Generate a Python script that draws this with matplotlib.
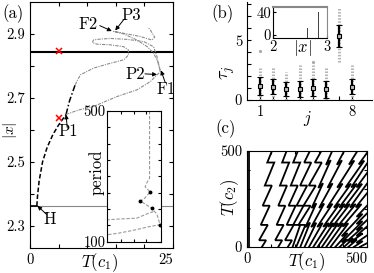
import numpy as np
import matplotlib.pyplot as plt
from matplotlib.transforms import ScaledTranslation

plt.rcParams.update({
    'font.family': 'serif', 'font.serif': ['cmr10'], 'mathtext.fontset': 'cm',
    'axes.unicode_minus': False, 'font.size': 10.5,
    'xtick.direction': 'in', 'ytick.direction': 'in',
    'xtick.major.size': 3, 'ytick.major.size': 3, 'axes.linewidth': 0.8,
})

# ---------------- data ----------------
# (a) bifurcation diagram |x| vs T(c1)
stable_T = [0.0, 1.2]
stable_x = [2.362, 2.362]
upper_fp_x = 2.845
unstable_fp_x = 2.362

hopf_T = [1.2, 1.3, 1.6, 2.2, 3.0, 4.0, 5.0, 6.3]
hopf_x = [2.362, 2.39, 2.44, 2.50, 2.545, 2.585, 2.615, 2.648]

dd_T = [6.3, 6.9, 7.9]
dd_x = [2.648, 2.69, 2.741]

up_T = [7.9, 8.8, 11.1, 14.0, 16.4, 17.2, 17.2, 16.4, 14.0, 11.7, 10.9, 11.1, 11.7,
        14.0, 17.0, 19.9, 21.6, 22.2, 22.5, 22.8]
up_x = [2.741, 2.772, 2.793, 2.808, 2.819, 2.834, 2.85, 2.86, 2.866, 2.868, 2.873,
        2.881, 2.883, 2.886, 2.883, 2.876, 2.86, 2.829, 2.80, 2.782]

low_T = [6.3, 8.5, 11.1, 15.2, 18.7, 21.05, 22.2, 22.8, 22.5, 21.6, 20.5, 18.7, 16.4,
         14.6, 17.0, 19.3, 21.3, 21.8, 21.05, 20.6]
low_x = [2.648, 2.662, 2.673, 2.704, 2.725, 2.751, 2.772, 2.782, 2.808, 2.84, 2.86,
         2.881, 2.90, 2.908, 2.90, 2.892, 2.881, 2.89, 2.912, 2.921]

cross_T = [5.0, 5.0]
cross_x = [2.637, 2.846]

# inset of (a): period vs T(c1)
per_T1 = [21.1, 21.1, 20.6, 20.3, 21.2, 20.0, 19.4, 20.6, 21.5, 22.4, 23.0, 21.0, 18.5, 15.5, 13.4]
per_P1 = [500, 294, 280, 268, 252, 229, 225, 212, 202, 185, 152, 146, 136, 126, 121]
per_T2 = [21.8, 20.9, 18.8, 15.2, 13.4]
per_P2 = [192, 187, 172, 169, 167]
per_dot_T = [21.2, 19.4, 21.5, 23.0]
per_dot_P = [252, 225, 202, 152]

# (b) tau_j statistics
j = [1, 2, 3, 4, 5, 6, 7, 8]
tau_mean = [1.19, 1.11, 0.89, 0.92, 1.03, 0.94, 5.36, 1.11]
tau_lo = [0.42, 0.47, 0.33, 0.28, 0.36, 0.19, 4.44, 0.47]
tau_hi = [1.94, 1.78, 1.47, 1.58, 1.72, 1.61, 6.25, 1.75]
tau_min = [0.0, 0.0, 0.0, 0.0, 0.0, 0.0, 3.19, 0.0]
tau_max = [2.64, 2.78, 2.36, 2.92, 2.9, 2.64, 7.78, 2.92]
tau_out_j = [1, 5]
tau_out = [4.1, 3.19]

# inset of (b): histogram of |x|
hist_x = [2.637, 2.845]
hist_n = [13, 40.5]

# (c) T(c2) vs T(c1) curves, kink positions along each curve
c_curves = [
    [(8, 0), (8, 500)],
    [(62, 0), (65, 35), (72, 115), (80, 215), (89, 320), (99, 440), (104, 500)],
    [(130, 0), (132, 35), (138, 115), (145, 215), (152, 320), (161, 440), (165, 500)],
    [(170, 0), (173, 35), (180, 115), (188, 215), (197, 320), (207, 440), (212, 500)],
    [(190, 0), (207, 115), (221, 215), (236, 320), (253, 440), (262, 500)],
    [(205, 0), (229, 115), (250, 215), (272, 320), (297, 440), (310, 500)],
    [(222, 0), (253, 115), (279, 215), (307, 320), (339, 440), (355, 500)],
    [(240, 0), (278, 115), (311, 215), (346, 320), (385, 440), (405, 500)],
    [(258, 0), (304, 115), (345, 215), (387, 320), (436, 440), (460, 500)],
    [(276, 0), (329, 115), (374, 215), (422, 320), (477, 440), (500, 490)],
    [(294, 0), (349, 115), (396, 215), (446, 320), (500, 435)],
    [(312, 0), (368, 115), (417, 215), (468, 320), (500, 385)],
    [(330, 0), (389, 115), (441, 215), (500, 330)],
    [(348, 0), (410, 115), (465, 215), (500, 280)],
    [(368, 0), (407, 64), (469, 165), (500, 215)],
    [(386, 0), (407, 32), (469, 127), (500, 175)],
    [(404, 0), (430, 38), (469, 95), (500, 140)],
    [(422, 0), (445, 32), (469, 64), (500, 107)],
    [(445, 0), (469, 26), (500, 60)],
    [(470, 0), (500, 20)],
]

W, H = 374, 273
fig = plt.figure(figsize=(W / 100, H / 100), dpi=100)


def px(x, y):
    return x / W, 1 - y / H


def ftext(x, y, s, **kw):
    fig.text(*px(x, y), s, ha='center', va='center', **kw)


# ---------------- (a) ----------------
ax = fig.add_axes([30 / W, 1 - 248 / H, 143 / W, 246 / H])
ax.set_xlim(0, 25)
ax.set_ylim(2.23, 3.0)
ax.axhline(upper_fp_x, color='k', lw=1.5)
ax.axhline(unstable_fp_x, color='#888888', lw=0.8)
ax.plot(stable_T, stable_x, color='k', lw=1.2)
ax.plot(hopf_T, hopf_x, color='k', lw=1.1, ls=(0, (3, 1.5)))
ax.plot(dd_T, dd_x, color='k', lw=1.1, ls=(0, (4, 1.5, 1, 1.5)))
ax.plot(up_T, up_x, color='#8c8c8c', lw=0.8, ls=(0, (3, 1, 1, 1)))
ax.plot(low_T, low_x, color='#8c8c8c', lw=0.8, ls=(0, (3, 1, 1, 1)))
ax.plot(cross_T, cross_x, 'x', color='red', ms=4.5, mew=1.1, ls='none')

arrow = dict(arrowstyle='-|>', color='k', lw=0.7, mutation_scale=6, shrinkA=0, shrinkB=0)
ax.annotate('', xy=(6.3, 2.648), xytext=(6.5, 2.608), arrowprops=arrow)
ax.text(6.7, 2.594, 'P1', ha='center', va='center', fontsize=12)
ax.annotate('', xy=(22.2, 2.773), xytext=(20.1, 2.775), arrowprops=arrow)
ax.text(18.4, 2.775, 'P2', ha='center', va='center', fontsize=12)
ax.annotate('', xy=(22.9, 2.786), xytext=(23.6, 2.75), arrowprops=arrow)
ax.text(23.8, 2.727, 'F1', ha='center', va='center', fontsize=12)
ax.annotate('', xy=(14.3, 2.909), xytext=(12.2, 2.926), arrowprops=arrow)
ax.text(10.2, 2.931, 'F2', ha='center', va='center', fontsize=12)
ax.annotate('', xy=(14.9, 2.911), xytext=(16.4, 2.945), arrowprops=arrow)
ax.text(17.7, 2.959, 'P3', ha='center', va='center', fontsize=12)
ax.annotate('', xy=(1.3, 2.362), xytext=(2.9, 2.335), arrowprops=arrow)
ax.text(3.5, 2.321, 'H', ha='center', va='center', fontsize=12)

ax.set_xticks([0, 5, 10, 15, 20, 25])
ax.set_xticklabels(['0', '', '', '', '', '25'])
ax.get_xticklabels()[-1].set_horizontalalignment('right')
ax.set_yticks([2.3, 2.4, 2.5, 2.6, 2.7, 2.8, 2.9])
ax.set_yticklabels(['2.3', '', '2.5', '', '2.7', '', '2.9'])
ax.tick_params(top=True, right=True)
ftext(10, 130, r'$|x|$', rotation=90, fontsize=11)
ftext(100, 263, r'$T(c_1)$', fontsize=12)
ftext(13, 14, '(a)', fontsize=12)

# inset of (a)
ins = fig.add_axes([106.7 / W, 1 - 241.7 / H, 54 / W, 130.7 / H])
ins.set_facecolor('white')
ins.set_xlim(13.4, 23.1)
ins.set_ylim(100, 500)
ins.plot(per_T1, per_P1, color='#999999', lw=0.8, ls=(0, (3, 1.5)))
ins.plot(per_T2, per_P2, color='#999999', lw=0.8, ls=(0, (3, 1.5)))
ins.plot(per_dot_T, per_dot_P, 'o', color='k', ms=1.8, ls='none')
ins.set_yticks(np.arange(100, 501, 50))
ins.set_yticklabels(['100'] + [''] * 7 + ['500'])
ins.set_xticks([16, 18.25, 20.5])
ins.set_xticklabels([])
ins.tick_params(top=True, right=True, length=2.5, pad=1)
ftext(97, 172, 'period', rotation=90, fontsize=12)

# ---------------- (b) ----------------
bx = fig.add_axes([247 / W, 1 - 100 / H, 125 / W, 98 / H])
bx.set_xlim(0, 9.5)
bx.set_ylim(0, 8.2)
for jj, lo, hi in zip(j, tau_min, tau_max):
    bx.plot([jj, jj], [lo, hi], color='#b5b5b5', lw=2.2, ls=(0, (0.5, 0.5)))
bx.plot(tau_out_j, tau_out, 'o', color='#aaaaaa', ms=1.3, ls='none')
yerr = [np.array(tau_mean) - np.array(tau_lo), np.array(tau_hi) - np.array(tau_mean)]
bx.errorbar(j, tau_mean, yerr=yerr, fmt='s', color='k', ms=3.5, mfc='#bbbbbb',
            mec='k', mew=0.8, elinewidth=1.6, capsize=2, capthick=1)
bx.spines['top'].set_visible(False)
bx.spines['right'].set_visible(False)
bx.set_yticks(range(0, 9))
bx.set_yticklabels(['0', '', '', '', '', '5', '', '', ''])
bx.set_xticks(j)
bx.set_xticklabels(['1', '', '', '', '', '', '', '8'])
ftext(228, 73, r'$\tau_j$', rotation=90, fontsize=13)
ftext(307, 118, r'$j$', fontsize=12)
ftext(222, 14, '(b)', fontsize=12)

# inset of (b)
hb = fig.add_axes([273 / W, 1 - 38 / H, 54 / W, 31.5 / H])
hb.set_xlim(2, 3)
hb.set_ylim(-5, 50)
hb.bar(hist_x, np.array(hist_n) + 5, bottom=-5, width=0.012, color='#444444')
hb.set_xticks([2, 3])
hb.set_yticks([0, 40])
hb.tick_params(length=2, pad=1.5)
for s in ['top', 'right']:
    hb.spines[s].set_color('#888888')
hb.spines['top'].set_linewidth(1.5)
ftext(302, 48, r'$|x|$', fontsize=12)

# ---------------- (c) ----------------
cx = fig.add_axes([247 / W, 1 - 247 / H, 120 / W, 96 / H])
cx.set_xlim(0, 500)
cx.set_ylim(0, 500)
cx.set_xticks([0, 100, 200, 300, 400, 500])
cx.set_xticklabels(['0', '', '', '', '', '500'])
lab = cx.get_xticklabels()[-1]
lab.set_horizontalalignment('right')
lab.set_transform(lab.get_transform() + ScaledTranslation(6 / 100, 0, fig.dpi_scale_trans))
cx.set_yticks([0, 100, 200, 300, 400, 500])
cx.set_yticklabels(['0', '', '', '', '', '500'])
cx.tick_params(top=True, right=True, length=2)
fig.canvas.draw()


def zigzag(a_ax, nodes):
    # each kink: forward stroke overshoots, then a short back stroke
    pts = a_ax.transData.transform(np.array(nodes, float))
    path = [pts[0]]
    for i in range(1, len(pts) - 1):
        d = pts[i + 1] - pts[i - 1]
        d = d / np.hypot(*d)
        n = np.array([-d[1], d[0]])
        ang = np.degrees(np.arctan2(d[1], d[0]))
        back = np.array([-7.0, 0.0]) if ang > 75 else -6.0 * d + 3.0 * n
        path.append(pts[i] - back / 2)
        path.append(pts[i] + back / 2)
    path.append(pts[-1])
    return a_ax.transData.inverted().transform(np.array(path))


for nodes in c_curves:
    xy = zigzag(cx, nodes)
    cx.plot(xy[:, 0], xy[:, 1], color='k', lw=1.3, solid_joinstyle='miter')
ftext(230, 197, r'$T(c_2)$', rotation=90, fontsize=12)
ftext(307, 262, r'$T(c_1)$', fontsize=12)
ftext(226, 129, '(c)', fontsize=12)

fig.savefig('out.png', dpi=100)
